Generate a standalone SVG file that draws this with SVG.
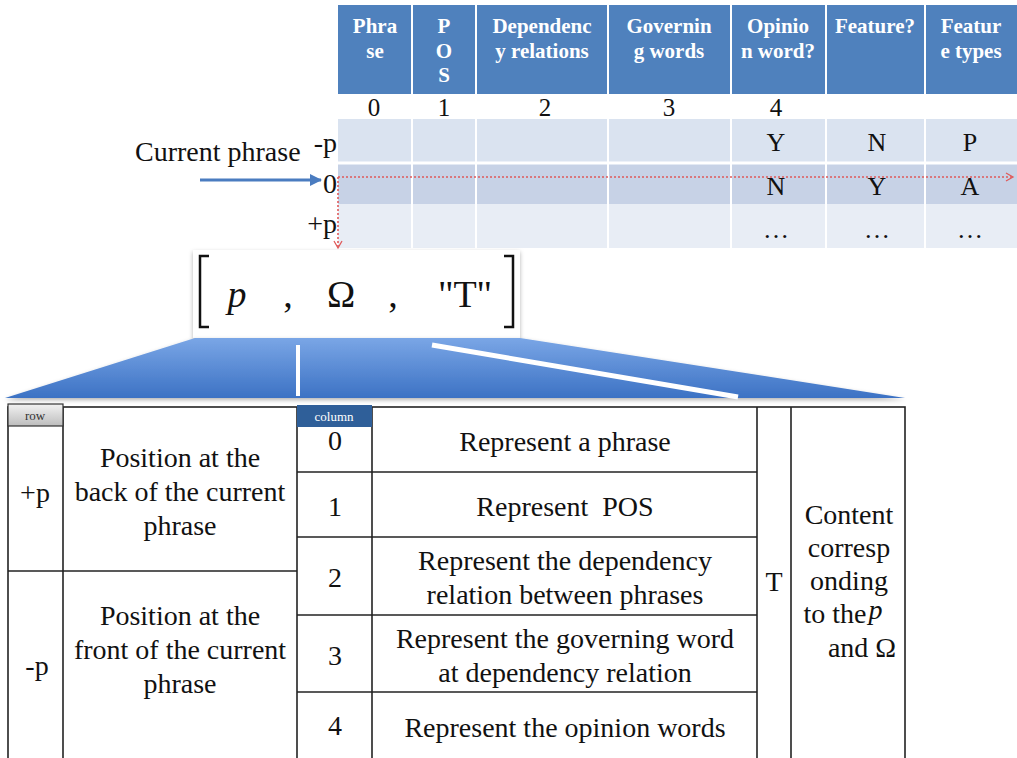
<svg xmlns="http://www.w3.org/2000/svg" width="1017" height="758" viewBox="0 0 1017 758">
  <style>
    text { font-family: "Liberation Serif", "Times New Roman", "DejaVu Serif", serif; }
    .hd { font-weight: bold; font-size: 21px; fill: #ffffff; text-anchor: middle; }
    .num { font-size: 25px; fill: #111; text-anchor: middle; }
    .cell { font-size: 26px; fill: #111; text-anchor: middle; }
    .lbl { font-size: 28px; fill: #111; }
    .tt { font-size: 28px; fill: #111; text-anchor: middle; }
    .grid { stroke: #222; stroke-width: 1.6; fill: none; }
    .sep { stroke: #ffffff; stroke-width: 2; }
    .expr { font-size: 38px; fill: #111; text-anchor: middle; }
  </style>
  <defs>
    <linearGradient id="trap" x1="0" y1="0" x2="0" y2="1">
      <stop offset="0" stop-color="#7aa6e6"/>
      <stop offset="1" stop-color="#3c72c4"/>
    </linearGradient>
    <linearGradient id="rowTab" x1="0" y1="0" x2="0" y2="1">
      <stop offset="0" stop-color="#f2f2f2"/>
      <stop offset="1" stop-color="#bdbdbd"/>
    </linearGradient>
    <filter id="shadow" x="-10%" y="-10%" width="120%" height="130%">
      <feDropShadow dx="0" dy="2" stdDeviation="2" flood-color="#000" flood-opacity="0.3"/>
    </filter>
    <marker id="redHead" markerWidth="10" markerHeight="10" refX="8" refY="5" orient="auto" markerUnits="userSpaceOnUse">
      <path d="M1,1 L8,5 L1,9" fill="none" stroke="#e05a5a" stroke-width="1.3"/>
    </marker>
    <marker id="blueHead" markerWidth="14" markerHeight="14" refX="11" refY="7" orient="auto" markerUnits="userSpaceOnUse">
      <path d="M0,1 L12,7 L0,13 Z" fill="#4a7cc0"/>
    </marker>
  </defs>

  <rect width="1017" height="758" fill="#ffffff"/>

  <!-- feature matrix -->
  <g id="matrix">
    <rect x="338" y="5" width="679" height="89" fill="#4f81bd"/>
    <rect x="338" y="119" width="679" height="43" fill="#dae3f0"/>
    <rect x="338" y="164" width="679" height="40" fill="#c7d2e6"/>
    <rect x="338" y="204" width="679" height="44" fill="#e8edf5"/>
    <g class="sep">
      <line x1="412" y1="5" x2="412" y2="94"/>
      <line x1="476" y1="5" x2="476" y2="94"/>
      <line x1="608" y1="5" x2="608" y2="94"/>
      <line x1="731" y1="5" x2="731" y2="94"/>
      <line x1="826" y1="5" x2="826" y2="94"/>
      <line x1="925" y1="5" x2="925" y2="94"/>
      <line x1="412" y1="119" x2="412" y2="248"/>
      <line x1="476" y1="119" x2="476" y2="248"/>
      <line x1="608" y1="119" x2="608" y2="248"/>
      <line x1="731" y1="119" x2="731" y2="248"/>
      <line x1="826" y1="119" x2="826" y2="248"/>
      <line x1="925" y1="119" x2="925" y2="248"/>
      <line x1="338" y1="163" x2="1017" y2="163" stroke-width="3"/>
    </g>
    <text class="hd" x="375" y="33">Phra</text>
    <text class="hd" x="375" y="58">se</text>
    <text class="hd" x="444" y="33">P</text>
    <text class="hd" x="444" y="58">O</text>
    <text class="hd" x="444" y="82">S</text>
    <text class="hd" x="542" y="33">Dependenc</text>
    <text class="hd" x="542" y="58">y relations</text>
    <text class="hd" x="669" y="33">Governin</text>
    <text class="hd" x="669" y="58">g words</text>
    <text class="hd" x="778" y="33">Opinio</text>
    <text class="hd" x="778" y="58">n word?</text>
    <text class="hd" x="875" y="33">Feature?</text>
    <text class="hd" x="971" y="33">Featur</text>
    <text class="hd" x="971" y="58">e types</text>

    <text class="num" x="374" y="116">0</text>
    <text class="num" x="444" y="116">1</text>
    <text class="num" x="545" y="116">2</text>
    <text class="num" x="669" y="116">3</text>
    <text class="num" x="776" y="116">4</text>

    <text class="cell" x="776" y="151">Y</text>
    <text class="cell" x="877" y="151">N</text>
    <text class="cell" x="970" y="151">P</text>
    <text class="cell" x="776" y="195">N</text>
    <text class="cell" x="877" y="195">Y</text>
    <text class="cell" x="970" y="195">A</text>
    <text class="cell" x="776" y="238">…</text>
    <text class="cell" x="877" y="238">…</text>
    <text class="cell" x="970" y="238">…</text>

    <text class="lbl" x="135" y="161">Current phrase</text>
    <text class="lbl" x="337" y="152" text-anchor="end">-p</text>
    <text class="lbl" x="337" y="193" text-anchor="end">0</text>
    <text class="lbl" x="337" y="233" text-anchor="end">+p</text>
  </g>

  <!-- bracket expression -->
  <g id="expression">
    <rect x="193" y="250" width="327" height="88" fill="#ffffff" filter="url(#shadow)"/>
    <path d="M209,256 L200,256 L200,327 L209,327" fill="none" stroke="#111" stroke-width="2.5"/>
    <path d="M504,256 L513,256 L513,327 L504,327" fill="none" stroke="#111" stroke-width="2.5"/>
    <text class="expr" x="237" y="307" font-style="italic">p</text>
    <text class="expr" x="288" y="307">,</text>
    <text class="expr" x="341" y="307">Ω</text>
    <text class="expr" x="393" y="307">,</text>
    <text class="expr" x="465" y="307">"T"</text>
  </g>

  <!-- expansion funnel -->
  <g id="funnel">
    <path d="M195,338 L520,338 L905,398 L5,398 Z" fill="url(#trap)" filter="url(#shadow)"/>
    <line x1="298" y1="345" x2="298" y2="396" stroke="#ffffff" stroke-width="4"/>
    <line x1="432" y1="345" x2="738" y2="397" stroke="#ffffff" stroke-width="5"/>
  </g>

  <!-- legend table -->
  <g id="legend">
    <rect x="8" y="407" width="897" height="360" fill="#ffffff" class="grid"/>
    <g class="grid">
      <line x1="63" y1="407" x2="63" y2="758"/>
      <line x1="297" y1="407" x2="297" y2="758"/>
      <line x1="372" y1="407" x2="372" y2="758"/>
      <line x1="757" y1="407" x2="757" y2="758"/>
      <line x1="791" y1="407" x2="791" y2="758"/>
      <line x1="8" y1="571" x2="297" y2="571"/>
      <line x1="297" y1="472" x2="757" y2="472"/>
      <line x1="297" y1="537" x2="757" y2="537"/>
      <line x1="297" y1="615" x2="757" y2="615"/>
      <line x1="297" y1="692" x2="757" y2="692"/>
    </g>
    <rect x="8" y="404" width="55" height="22" fill="url(#rowTab)" stroke="#333" stroke-width="1.2"/>
    <text x="35" y="420" font-size="13" fill="#333" text-anchor="middle">row</text>
    <rect x="297" y="405" width="75" height="22" fill="#2f5f99"/>
    <text x="334" y="421" font-size="13" fill="#ffffff" text-anchor="middle">column</text>

    <text class="tt" x="35" y="502">+p</text>
    <text class="tt" x="180" y="467">Position at the</text>
    <text class="tt" x="180" y="501">back of the current</text>
    <text class="tt" x="180" y="535">phrase</text>
    <text class="tt" x="37" y="675">-p</text>
    <text class="tt" x="180" y="625">Position at the</text>
    <text class="tt" x="180" y="659">front of the current</text>
    <text class="tt" x="180" y="693">phrase</text>

    <text class="tt" x="335" y="450">0</text>
    <text class="tt" x="335" y="516">1</text>
    <text class="tt" x="335" y="587">2</text>
    <text class="tt" x="335" y="665">3</text>
    <text class="tt" x="335" y="735">4</text>

    <text class="tt" x="565" y="451">Represent a phrase</text>
    <text class="tt" x="565" y="516">Represent&#160; POS</text>
    <text class="tt" x="565" y="570">Represent the dependency</text>
    <text class="tt" x="565" y="604">relation between phrases</text>
    <text class="tt" x="565" y="648">Represent the governing word</text>
    <text class="tt" x="565" y="682">at dependency relation</text>
    <text class="tt" x="565" y="737">Represent the opinion words</text>

    <text class="tt" x="774" y="591">T</text>
    <text class="tt" x="849" y="524">Content</text>
    <text class="tt" x="849" y="557">corresp</text>
    <text class="tt" x="849" y="590">onding</text>
    <text class="tt" x="843" y="623">to the<tspan font-style="italic" dx="2" dy="-4">p</tspan></text>
    <text class="tt" x="862" y="657">and Ω</text>
  </g>

  <!-- connectors -->
  <g id="connectors">
    <line x1="200" y1="180" x2="321" y2="180" stroke="#4a7cc0" stroke-width="3" marker-end="url(#blueHead)"/>
    <line x1="338" y1="177" x2="1013" y2="177" stroke="#e05a5a" stroke-width="1.6" stroke-dasharray="2,2" marker-end="url(#redHead)"/>
    <line x1="338" y1="177" x2="338" y2="248" stroke="#e05a5a" stroke-width="1.6" stroke-dasharray="2,2" marker-end="url(#redHead)"/>
  </g>
</svg>
